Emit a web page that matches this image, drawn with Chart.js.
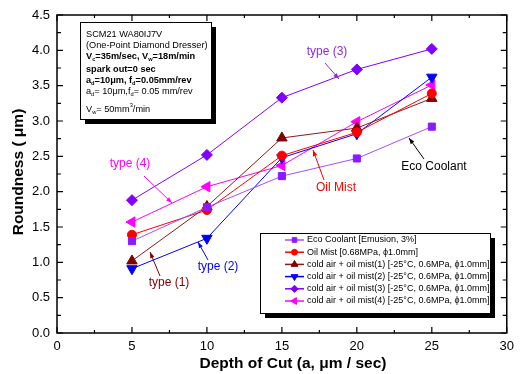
<!DOCTYPE html>
<html>
<head>
<meta charset="utf-8">
<script src="https://cdn.jsdelivr.net/npm/chart.js@4"></script>
<style>
  html, body { margin: 0; padding: 0; background: #fff; }
</style>
</head>
<body>
<canvas id="chart" width="520" height="374"></canvas>
<script>
// Data
const depth = [5, 10, 15, 20, 25];
const ecoCoolant = [1.30, 1.78, 2.22, 2.47, 2.92];
const oilMist = [1.39, 1.74, 2.51, 2.84, 3.39];
const coldAir1 = [1.02, 1.79, 2.76, 2.90, 3.32];
const coldAir2 = [0.91, 1.34, 2.48, 2.82, 3.62];
const coldAir3 = [1.88, 2.52, 3.33, 3.73, 4.02];
const coldAir4 = [1.57, 2.07, 2.37, 2.99, 3.51];

const seriesLabels = [
    'Eco Coolant [Emusion, 3%]',
    'Oil Mist [0.68MPa, \u03d51.0mm]',
    'cold air + oil mist(1) [-25\u00b0C, 0.6MPa, \u03d51.0mm]',
    'cold air + oil mist(2) [-25\u00b0C, 0.6MPa, \u03d51.0mm]',
    'cold air + oil mist(3) [-25\u00b0C, 0.6MPa, \u03d51.0mm]',
    'cold air + oil mist(4) [-25\u00b0C, 0.6MPa, \u03d51.0mm]'
];

const xTicks = [0, 5, 10, 15, 20, 25, 30];
const yTicks = [0, 0.5, 1.0, 1.5, 2.0, 2.5, 3.0, 3.5, 4.0, 4.5];

const FONT = "'Liberation Sans', Arial, sans-serif";

function pts(vals) {
    return vals.map((v, i) => ({ x: depth[i], y: v }));
}

const styles = [
    { line: '#a050ff', fill: '#8c1aff', pointStyle: 'rect', rotation: 0, radius: 5 },
    { line: '#ff0000', fill: '#ff0000', pointStyle: 'circle', rotation: 0, radius: 4.5 },
    { line: '#8b1a1a', fill: '#800000', pointStyle: 'triangle', rotation: 0, radius: 6 },
    { line: '#0000ff', fill: '#0000ff', pointStyle: 'triangle', rotation: 180, radius: 6 },
    { line: '#8000ff', fill: '#8000ff', pointStyle: 'rectRot', rotation: 0, radius: 5.5 },
    { line: '#ff00ff', fill: '#ff00ff', pointStyle: 'triangle', rotation: 270, radius: 6 }
];

const seriesValues = [ecoCoolant, oilMist, coldAir1, coldAir2, coldAir3, coldAir4];

const datasets = seriesValues.map((vals, i) => ({
    label: seriesLabels[i],
    data: pts(vals),
    borderColor: styles[i].line,
    backgroundColor: styles[i].fill,
    pointBackgroundColor: styles[i].fill,
    pointBorderColor: styles[i].fill,
    pointStyle: styles[i].pointStyle,
    pointRotation: styles[i].rotation,
    pointRadius: styles[i].radius,
    pointBorderWidth: 1,
    borderWidth: 1,
    tension: 0
}));

// text annotations with arrows (pixel layout)
const notes = [
    { text: 'type (3)', color: '#8a2be2', tx: 327, ty: 52, ax: [325, 63, 339, 79] },
    { text: 'type (4)', color: '#ff00ff', tx: 130, ty: 164, ax: [144, 176, 172, 203] },
    { text: 'type (1)', color: '#800000', tx: 169, ty: 283, ax: [160, 276, 150, 252] },
    { text: 'type (2)', color: '#0000ff', tx: 218, ty: 267, ax: [208, 260, 198, 242] },
    { text: 'Oil Mist', color: '#ff0000', tx: 336, ty: 188, ax: [324, 180, 313, 150] },
    { text: 'Eco Coolant', color: '#000000', tx: 434, ty: 167, ax: [424, 159, 409, 138] }
];

function arrow(ctx, x1, y1, x2, y2, color) {
    ctx.strokeStyle = color;
    ctx.fillStyle = color;
    ctx.lineWidth = 1;
    ctx.beginPath();
    ctx.moveTo(x1, y1);
    ctx.lineTo(x2, y2);
    ctx.stroke();
    const ang = Math.atan2(y2 - y1, x2 - x1);
    const len = 6, w = 2.2;
    ctx.beginPath();
    ctx.moveTo(x2, y2);
    ctx.lineTo(x2 - len * Math.cos(ang) + w * Math.sin(ang), y2 - len * Math.sin(ang) - w * Math.cos(ang));
    ctx.lineTo(x2 - len * Math.cos(ang) - w * Math.sin(ang), y2 - len * Math.sin(ang) + w * Math.cos(ang));
    ctx.closePath();
    ctx.fill();
}

function richText(ctx, parts, x, y, size, bold) {
    for (const p of parts) {
        const small = p.sub || p.sup;
        const s = small ? size * 0.62 : size;
        ctx.font = (bold ? 'bold ' : '') + s + 'px ' + FONT;
        const dy = p.sub ? size * 0.32 : (p.sup ? -size * 0.38 : 0);
        ctx.fillText(p.t, x, y + dy);
        x += ctx.measureText(p.t).width;
    }
}

function shadowBox(ctx, x, y, w, h) {
    ctx.fillStyle = '#000';
    ctx.fillRect(x + 5, y + 5, w, h);
    ctx.fillStyle = '#fff';
    ctx.fillRect(x, y, w, h);
    ctx.strokeStyle = '#000';
    ctx.lineWidth = 1;
    ctx.strokeRect(x + 0.5, y + 0.5, w, h);
}

const decor = {
    id: 'decor',
    afterDraw(chart) {
        const { ctx, chartArea: a, scales: { x, y } } = chart;
        ctx.save();

        // frame
        ctx.strokeStyle = '#000';
        ctx.lineWidth = 1.5;
        ctx.strokeRect(a.left, a.top, a.right - a.left, a.bottom - a.top);

        // inward ticks on all four sides
        ctx.lineWidth = 1.2;
        ctx.beginPath();
        xTicks.forEach((v, i) => {
            const px = x.getPixelForValue(v);
            ctx.moveTo(px, a.bottom); ctx.lineTo(px, a.bottom - 6);
            ctx.moveTo(px, a.top); ctx.lineTo(px, a.top + 6);
            if (i < xTicks.length - 1) {
                const mx = x.getPixelForValue(v + 2.5);
                ctx.moveTo(mx, a.bottom); ctx.lineTo(mx, a.bottom - 3);
                ctx.moveTo(mx, a.top); ctx.lineTo(mx, a.top + 3);
            }
        });
        yTicks.forEach((v, i) => {
            const py = y.getPixelForValue(v);
            ctx.moveTo(a.left, py); ctx.lineTo(a.left + 6, py);
            ctx.moveTo(a.right, py); ctx.lineTo(a.right - 6, py);
            if (i < yTicks.length - 1) {
                const my = y.getPixelForValue(v + 0.25);
                ctx.moveTo(a.left, my); ctx.lineTo(a.left + 4, my);
                ctx.moveTo(a.right, my); ctx.lineTo(a.right - 4, my);
            }
        });
        ctx.stroke();

        // axis titles
        ctx.fillStyle = '#000';
        ctx.textAlign = 'center';
        ctx.textBaseline = 'middle';
        ctx.font = 'bold 15.5px ' + FONT;
        ctx.fillText('Depth of Cut (a, \u03bcm / sec)', 293, 364);
        ctx.save();
        ctx.translate(19, 172);
        ctx.rotate(-Math.PI / 2);
        ctx.fillText('Roundness ( \u03bcm)', 0, 0);
        ctx.restore();

        // annotations
        ctx.font = '12px ' + FONT;
        notes.forEach(n => {
            ctx.fillStyle = n.color;
            ctx.fillText(n.text, n.tx, n.ty);
            arrow(ctx, n.ax[0], n.ax[1], n.ax[2], n.ax[3], n.color);
        });

        // condition box
        shadowBox(ctx, 80, 22, 131, 97);
        ctx.fillStyle = '#000';
        ctx.textAlign = 'left';
        const bx = 86, fs = 9.2;
        richText(ctx, [{ t: 'SCM21 WA80IJ7V' }], bx, 34, fs, false);
        richText(ctx, [{ t: '(One-Point Diamond Dresser)' }], bx, 45.5, fs, false);
        richText(ctx, [{ t: 'V' }, { t: 'c', sub: 1 }, { t: '=35m/sec, V' }, { t: 'w', sub: 1 }, { t: '=18m/min' }], bx, 56.5, fs, true);
        richText(ctx, [{ t: 'spark out=0 sec' }], bx, 69, fs, true);
        richText(ctx, [{ t: 'a' }, { t: 'd', sub: 1 }, { t: '=10\u03bcm, f' }, { t: 'd', sub: 1 }, { t: '=0.05mm/rev' }], bx, 80, fs, true);
        richText(ctx, [{ t: 'a' }, { t: 'd', sub: 1 }, { t: '= 10\u03bcm,f' }, { t: 'd', sub: 1 }, { t: '= 0.05 mm/rev' }], bx, 91, fs, false);
        richText(ctx, [{ t: 'V' }, { t: 'w', sub: 1 }, { t: '= 50mm' }, { t: '3', sup: 1 }, { t: '/min' }], bx, 109, fs, false);

        // legend box
        shadowBox(ctx, 260, 233, 230, 80);
        ctx.font = '9px ' + FONT;
        chart.data.datasets.forEach((ds, i) => {
            const ly = 240 + i * 12.2;
            const st = styles[i];
            ctx.strokeStyle = st.line;
            ctx.lineWidth = 1.5;
            ctx.beginPath();
            ctx.moveTo(285, ly); ctx.lineTo(304, ly);
            ctx.stroke();
            ctx.fillStyle = st.fill;
            ctx.strokeStyle = st.fill;
            ctx.lineWidth = 1;
            Chart.helpers.drawPoint(ctx, { pointStyle: st.pointStyle, rotation: st.rotation, radius: st.radius * 0.65, borderWidth: 1 }, 294.5, ly);
            ctx.fillStyle = '#000';
            ctx.fillText(ds.label, 307, ly);
        });

        ctx.restore();
    }
};

new Chart(document.getElementById('chart'), {
    type: 'line',
    data: { datasets },
    options: {
        responsive: false,
        devicePixelRatio: 1,
        animation: false,
        layout: { padding: { top: 15, right: 11, left: 0, bottom: 0 } },
        plugins: { legend: { display: false }, tooltip: { enabled: false } },
        scales: {
            x: {
                type: 'linear',
                min: 0, max: 30,
                afterFit: s => { s.height = 41; },
                afterBuildTicks: s => { s.ticks = xTicks.map(v => ({ value: v })); },
                grid: { display: false, drawTicks: false },
                border: { display: false },
                ticks: { color: '#000', font: { family: FONT, size: 13 }, padding: 6, maxRotation: 0 }
            },
            y: {
                min: 0, max: 4.5,
                afterFit: s => { s.width = 57; },
                afterBuildTicks: s => { s.ticks = yTicks.map(v => ({ value: v })); },
                grid: { display: false, drawTicks: false },
                border: { display: false },
                ticks: { color: '#000', font: { family: FONT, size: 13 }, padding: 7, callback: v => v.toFixed(1) }
            }
        }
    },
    plugins: [decor]
});
</script>
</body>
</html>
